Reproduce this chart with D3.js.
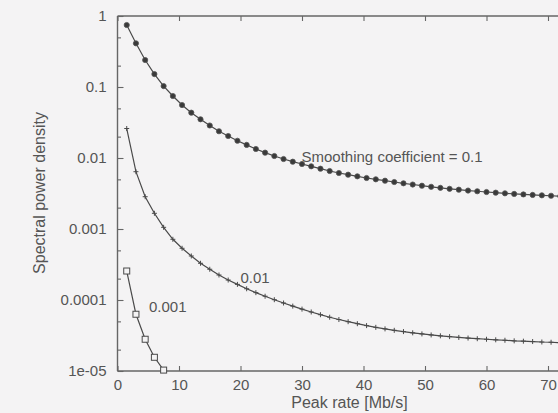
<!DOCTYPE html>
<html>
<head>
<meta charset="utf-8">
<script src="https://cdn.jsdelivr.net/npm/d3@7"></script>
<style>
  html, body { margin: 0; padding: 0; background: #f4f3f4; }
  svg { display: block; }
  text { font-family: "Liberation Sans", Arial, Helvetica, sans-serif; fill: #555; }
</style>
</head>
<body>
<svg id="chart" width="558" height="413"></svg>
<script>
// ---------------- data ----------------
const peakRate = [1.5, 3, 4.5, 6, 7.5, 9, 10.5, 12, 13.5, 15,
  16.5, 18, 19.5, 21, 22.5, 24, 25.5, 27, 28.5, 30,
  31.5, 33, 34.5, 36, 37.5, 39, 40.5, 42, 43.5, 45,
  46.5, 48, 49.5, 51, 52.5, 54, 55.5, 57, 58.5, 60,
  61.5, 63, 64.5, 66, 67.5, 69, 70.5, 72, 73.5, 75];

const density01 = [0.747, 0.412, 0.240, 0.152, 0.103, 0.0747, 0.0557, 0.0435, 0.0351, 0.0287,
  0.0238, 0.0204, 0.0175, 0.0153, 0.0134, 0.0119, 0.01067, 0.00968, 0.00887, 0.00823,
  0.00764, 0.00707, 0.00656, 0.00615, 0.00582, 0.00552, 0.00523, 0.00501, 0.00479, 0.00459,
  0.00440, 0.00423, 0.00407, 0.00393, 0.00380, 0.00368, 0.00358, 0.00348, 0.00340, 0.00332,
  0.00325, 0.00318, 0.00312, 0.00307, 0.00302, 0.00298, 0.00294, 0.00290, 0.00287, 0.00284];

const density001 = [0.02603, 0.006412, 0.002850, 0.001664, 0.001056, 7.16e-4, 5.35e-4, 4.17e-4, 3.29e-4, 2.71e-4,
  2.25e-4, 1.91e-4, 1.66e-4, 1.44e-4, 1.27e-4, 1.13e-4, 1.01e-4, 9.07e-5, 8.20e-5, 7.44e-5,
  6.78e-5, 6.21e-5, 5.72e-5, 5.31e-5, 4.95e-5, 4.64e-5, 4.36e-5, 4.12e-5, 3.92e-5, 3.74e-5,
  3.59e-5, 3.45e-5, 3.33e-5, 3.22e-5, 3.13e-5, 3.05e-5, 2.97e-5, 2.91e-5, 2.85e-5, 2.80e-5,
  2.75e-5, 2.71e-5, 2.66e-5, 2.63e-5, 2.60e-5, 2.56e-5, 2.54e-5, 2.51e-5, 2.49e-5, 2.47e-5];

const density0001 = [2.56e-4, 6.3e-5, 2.8e-5, 1.56e-5, 1.03e-5];

const seriesLabels = ["Smoothing coefficient = 0.1", "0.01", "0.001"];
const xTicks = [0, 10, 20, 30, 40, 50, 60, 70];
const yTicks = [1, 0.1, 0.01, 0.001, 0.0001, 0.00001];
const yTickLabels = ["1", "0.1", "0.01", "0.001", "0.0001", "1e-05"];
const yMinorTicks = [0.5, 0.2, 0.05, 0.02, 0.005, 0.002, 0.0005, 0.0002, 0.00005, 0.00002];
const xTitle = "Peak rate [Mb/s]";
const yTitle = "Spectral power density";

// ---------------- layout ----------------
const plotLeft = 117.5, plotTop = 16, plotBottom = 371;
const pxPerUnit = 6.15;
const xMax = 80;
const plotRight = plotLeft + xMax * pxPerUnit;

const svg = d3.select("#chart");
const x = d3.scaleLinear().domain([0, xMax]).range([plotLeft, plotRight]);
const y = d3.scaleLog().domain([1e-5, 1]).range([plotBottom, plotTop]);

const axisColor = "#666";
const lineColor = "#4a4a4a";
const fontFam = '"Liberation Sans", Arial, sans-serif';

// clip
svg.append("defs").append("clipPath").attr("id", "plotclip")
  .append("rect").attr("x", plotLeft - 4).attr("y", plotTop - 4)
  .attr("width", plotRight - plotLeft + 8).attr("height", plotBottom - plotTop + 8);

// border frame
const frame = svg.append("g").attr("stroke", axisColor).attr("stroke-width", 1.4);
frame.append("line").attr("x1", plotLeft).attr("x2", plotRight).attr("y1", plotTop).attr("y2", plotTop);
frame.append("line").attr("x1", plotLeft).attr("x2", plotRight).attr("y1", plotBottom).attr("y2", plotBottom);
frame.append("line").attr("x1", plotLeft).attr("x2", plotLeft).attr("y1", plotTop).attr("y2", plotBottom);

// bottom axis (ticks inward)
const xAxisB = d3.axisBottom(x).tickValues(xTicks).tickSize(-5).tickPadding(8).tickFormat(d3.format("d"));
const gxb = svg.append("g").attr("transform", `translate(0,${plotBottom})`).call(xAxisB);
gxb.select(".domain").remove();
gxb.selectAll(".tick line").attr("stroke", axisColor).attr("stroke-width", 1.1);
gxb.selectAll(".tick text").attr("font-size", 15).attr("fill", "#555").attr("font-family", fontFam);

// top axis ticks (inward)
const xAxisT = d3.axisTop(x).tickValues(xTicks).tickSize(-5).tickFormat("");
const gxt = svg.append("g").attr("transform", `translate(0,${plotTop})`).call(xAxisT);
gxt.select(".domain").remove();
gxt.selectAll(".tick line").attr("stroke", axisColor).attr("stroke-width", 1.1);

// left axis
const yAxis = d3.axisLeft(y).tickValues(yTicks).tickSize(-6).tickPadding(11)
  .tickFormat((d, i) => yTickLabels[i]);
const gy = svg.append("g").attr("transform", `translate(${plotLeft},0)`).call(yAxis);
gy.select(".domain").remove();
gy.selectAll(".tick line").attr("stroke", axisColor).attr("stroke-width", 1.1);
gy.selectAll(".tick text").attr("font-size", 15).attr("fill", "#555").attr("font-family", fontFam);

const yMinor = d3.axisLeft(y).tickValues(yMinorTicks).tickSize(-3.5).tickFormat("");
const gym = svg.append("g").attr("transform", `translate(${plotLeft},0)`).call(yMinor);
gym.select(".domain").remove();
gym.selectAll(".tick line").attr("stroke", axisColor).attr("stroke-width", 1.1);

// titles
svg.append("text").attr("x", 349.5).attr("y", 408).attr("text-anchor", "middle")
  .attr("font-size", 16).text(xTitle);
svg.append("text").attr("transform", "translate(45,193) rotate(-90)").attr("text-anchor", "middle")
  .attr("font-size", 16).text(yTitle);

// series
const plot = svg.append("g").attr("clip-path", "url(#plotclip)");
const line = d3.line().x(d => x(d[0])).y(d => y(d[1]));

const s1 = peakRate.map((p, i) => [p, density01[i]]);
const s2 = peakRate.map((p, i) => [p, density001[i]]);
const s3 = density0001.map((v, i) => [peakRate[i], v]);

[s1, s2, s3].forEach(s => {
  plot.append("path").datum(s).attr("d", line).attr("fill", "none")
    .attr("stroke", lineColor).attr("stroke-width", 1.2);
});

// markers: filled circles
plot.append("g").selectAll("circle").data(s1).join("circle")
  .attr("cx", d => x(d[0])).attr("cy", d => y(d[1])).attr("r", 2.6)
  .attr("fill", "#3a3a3a").attr("stroke", "#555").attr("stroke-width", 0.8);

// markers: plus
const plusG = plot.append("g").attr("stroke", lineColor).attr("stroke-width", 1);
plusG.selectAll("path").data(s2).join("path")
  .attr("d", d => {
    const cx = x(d[0]), cy = y(d[1]), h = 2.5;
    return `M${cx - h},${cy}H${cx + h}M${cx},${cy - h}V${cy + h}`;
  });

// markers: open squares
plot.append("g").selectAll("rect").data(s3).join("rect")
  .attr("x", d => x(d[0]) - 3).attr("y", d => y(d[1]) - 3)
  .attr("width", 6).attr("height", 6)
  .attr("fill", "#f4f3f4").attr("stroke", lineColor).attr("stroke-width", 1);

// series labels
svg.append("text").attr("x", 301.5).attr("y", 162).attr("font-size", 15).text(seriesLabels[0]);
svg.append("text").attr("x", 240.5).attr("y", 283).attr("font-size", 15).text(seriesLabels[1]);
svg.append("text").attr("x", 149).attr("y", 312).attr("font-size", 15).text(seriesLabels[2]);
</script>
</body>
</html>
